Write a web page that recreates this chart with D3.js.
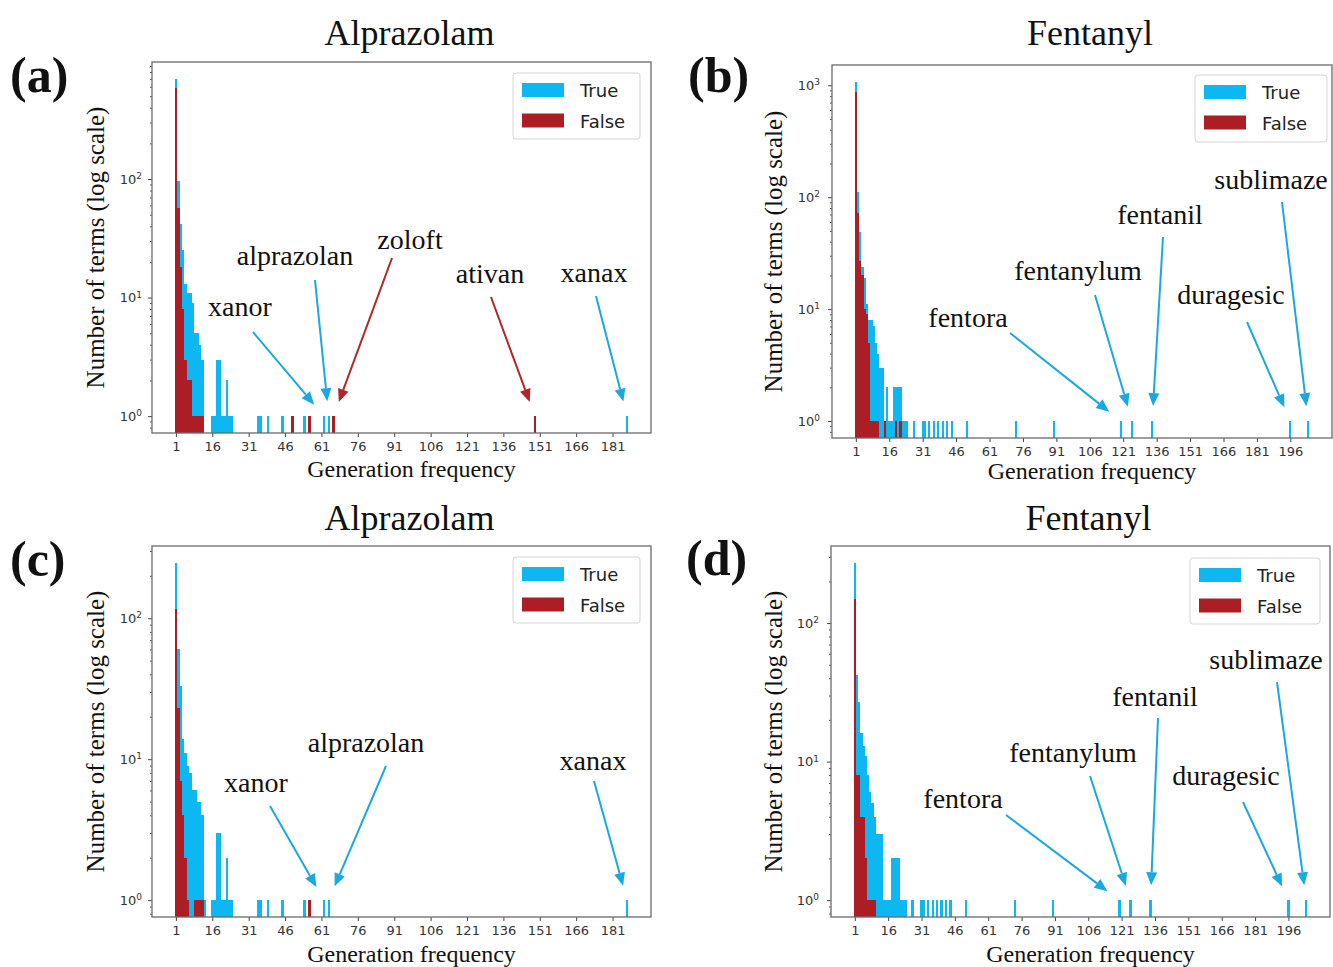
<!DOCTYPE html>
<html>
<head>
<meta charset="utf-8">
<script src="https://cdn.jsdelivr.net/npm/d3@7"></script>
<style>
  body { margin: 0; background: #fff; }
  svg { display: block; }
</style>
</head>
<body>
<svg id="fig" width="1333" height="967"></svg>
<script>
// ---- Data: generation frequency -> number of generated terms ----
// (a) Alprazolam
const aTrueFreq  = [1, 2, 3, 4, 5, 6, 7, 8, 9, 10, 11, 12, 16, 17, 18, 19, 20, 21, 22, 23, 24, 35, 36, 39, 45, 54, 56, 62, 64, 187];
const aTrueCount = [700, 97, 42, 25, 13, 11, 11, 9, 5, 5, 4, 3, 1, 1, 3, 3, 1, 1, 2, 1, 1, 1, 1, 1, 1, 1, 1, 1, 1, 1];
const aFalseFreq  = [1, 2, 3, 4, 5, 6, 7, 8, 9, 10, 11, 12, 49, 56, 66, 149];
const aFalseCount = [590, 57, 18, 8, 3, 2, 2, 1, 1, 1, 1, 1, 1, 1, 1, 1];

// (b) Fentanyl
const bTrueFreq  = [1, 2, 3, 4, 5, 6, 7, 8, 9, 10, 11, 12, 13, 14, 15, 16, 17, 18, 19, 20, 21, 22, 23, 24, 27, 31, 32, 34, 36, 38, 40, 42, 44, 51, 73, 90, 120, 125, 134, 196, 204];
const bTrueCount = [1070, 111, 49, 24, 19, 11, 8, 8, 7, 5, 4, 3, 3, 1, 2, 1, 1, 2, 2, 2, 2, 1, 1, 1, 1, 1, 1, 1, 1, 1, 1, 1, 1, 1, 1, 1, 1, 1, 1, 1, 1];
const bFalseFreq  = [1, 2, 3, 4, 5, 6, 7, 8, 9, 10, 11, 14, 19, 21];
const bFalseCount = [870, 72, 27, 20, 10, 9, 5, 1, 1, 1, 1, 1, 1, 1];

// (c) Alprazolam
const cTrueFreq  = [1, 2, 3, 4, 5, 6, 7, 8, 9, 10, 11, 12, 13, 16, 17, 18, 19, 20, 21, 22, 23, 24, 35, 36, 39, 45, 54, 56, 62, 64, 187];
const cTrueCount = [247, 60, 33, 14, 11, 9, 8, 6, 6, 5, 5, 4, 1, 1, 1, 3, 3, 1, 1, 2, 1, 1, 1, 1, 1, 1, 1, 1, 1, 1, 1];
const cFalseFreq  = [1, 2, 3, 4, 5, 6, 9, 10, 11, 12, 56];
const cFalseCount = [116, 23, 7, 4, 2, 1, 1, 1, 1, 1, 1];

// (d) Fentanyl
const dTrueFreq  = [1, 2, 3, 4, 5, 6, 7, 8, 9, 10, 11, 12, 13, 14, 15, 16, 17, 18, 19, 20, 21, 22, 23, 24, 27, 31, 32, 34, 36, 38, 40, 42, 44, 51, 73, 90, 120, 125, 134, 196, 204];
const dTrueCount = [272, 42, 27, 16, 13, 11, 8, 6, 5, 4, 3, 3, 3, 1, 1, 1, 1, 2, 2, 2, 2, 1, 1, 1, 1, 1, 1, 1, 1, 1, 1, 1, 1, 1, 1, 1, 1, 1, 1, 1, 1];
const dFalseFreq  = [1, 2, 3, 4, 5, 6, 7, 8, 9, 10];
const dFalseCount = [149, 8, 8, 4, 4, 2, 1, 1, 1, 1];

// x tick labels
const alpTicks = d3.range(1, 182, 15);   // 1, 16, ..., 181
const fenTicks = d3.range(1, 197, 15);   // 1, 16, ..., 196

// Annotated terms: name, generation frequency, whether it is a True term
const aTerms = ["xanor", "alprazolan", "zoloft", "ativan", "xanax"];
const aTermFreq = [62, 64, 66, 149, 187];
const aTermTrue = [true, true, false, false, true];
const fenTerms = ["fentora", "fentanylum", "fentanil", "duragesic", "sublimaze"];
const fenTermFreq = [120, 125, 134, 196, 204];
const fenTermTrue = [true, true, true, true, true];
const cTerms = ["xanor", "alprazolan", "xanax"];
const cTermFreq = [62, 64, 187];
const cTermTrue = [true, true, true];

// ---- Styles ----
const SERIF = "'Liberation Serif','Times New Roman',serif";
const SANS = "'DejaVu Sans',Verdana,sans-serif";
const BLUE = "#0db7f1";
const RED = "#ad1e24";
const ARROW_BLUE = "#1aa8e0";
const ARROW_RED = "#b0262a";

// ---- Layout: [label x, label baseline, arrow start x, arrow start y] ----
const aLabelPos = [[240, 316, 253, 332], [295, 265, 315, 280], [410, 249, 392, 258], [490, 283, 491, 297], [594, 282, 596, 296]];
const bLabelPos = [[968, 327, 1010, 333], [1078, 280, 1095, 295], [1160, 224, 1163, 237], [1231, 304, 1247, 322], [1271, 189, 1282, 202]];
const cLabelPos = [[256, 792, 270, 806], [366, 752, 386, 766], [593, 770, 594, 781]];
const dLabelPos = [[963, 808, 1006, 815], [1073, 762, 1090, 776], [1155, 706, 1158, 718], [1226, 785, 1243, 802], [1266, 669, 1277, 682]];

const panels = [
  { id: "a", title: "Alprazolam", letter: "(a)", frame: { x: 152, y: 62, w: 499, h: 371 },
    titleY: 45, letterPos: [10, 92], yLabelX: 95, xLabelY: 477, legend: { x: 513, y: 73, w: 127, h: 66 },
    trueFreq: aTrueFreq, trueCount: aTrueCount, falseFreq: aFalseFreq, falseCount: aFalseCount,
    ticks: alpTicks, terms: aTerms, termFreq: aTermFreq, termTrue: aTermTrue, labelPos: aLabelPos, ytickGap: 6 },
  { id: "b", title: "Fentanyl", letter: "(b)", frame: { x: 832, y: 65, w: 500, h: 373 },
    titleY: 45, letterPos: [688, 92], yLabelX: 773, xLabelY: 479, legend: { x: 1195, y: 75, w: 132, h: 67 },
    trueFreq: bTrueFreq, trueCount: bTrueCount, falseFreq: bFalseFreq, falseCount: bFalseCount,
    ticks: fenTicks, terms: fenTerms, termFreq: fenTermFreq, termTrue: fenTermTrue, labelPos: bLabelPos, ytickGap: 8 },
  { id: "c", title: "Alprazolam", letter: "(c)", frame: { x: 152, y: 546, w: 499, h: 371 },
    titleY: 530, letterPos: [10, 576], yLabelX: 95, xLabelY: 962, legend: { x: 513, y: 557, w: 127, h: 66 },
    trueFreq: cTrueFreq, trueCount: cTrueCount, falseFreq: cFalseFreq, falseCount: cFalseCount,
    ticks: alpTicks, terms: cTerms, termFreq: cTermFreq, termTrue: cTermTrue, labelPos: cLabelPos, ytickGap: 6 },
  { id: "d", title: "Fentanyl", letter: "(d)", frame: { x: 831, y: 546, w: 499, h: 371 },
    titleY: 530, letterPos: [686, 575], yLabelX: 773, xLabelY: 962, legend: { x: 1190, y: 558, w: 130, h: 66 },
    trueFreq: dTrueFreq, trueCount: dTrueCount, falseFreq: dFalseFreq, falseCount: dFalseCount,
    ticks: fenTicks, terms: fenTerms, termFreq: fenTermFreq, termTrue: fenTermTrue, labelPos: dLabelPos, ytickGap: 8 }
];

const svg = d3.select("#fig");
const defs = svg.append("defs");

function drawPanel(p) {
  const { x: fx, y: fy, w: fw, h: fh } = p.frame;
  const g = svg.append("g").attr("class", "panel-" + p.id);

  // x: one bar per integer frequency, 5% margin around the bar edges
  const freqs = p.trueFreq.concat(p.falseFreq);
  const lo = d3.min(freqs) - 0.5, hi = d3.max(freqs) + 0.5, pad = (hi - lo) * 0.05;
  const x = d3.scaleLinear().domain([lo - pad, hi + pad]).range([fx, fx + fw]);

  // y: log scale with 5% (in log space) margins
  const L = Math.log10(d3.max(p.trueCount.concat(p.falseCount)));
  const y = d3.scaleLog().domain([Math.pow(10, -0.05 * L), Math.pow(10, 1.05 * L)]).range([fy + fh, fy]);

  defs.append("clipPath").attr("id", "clip-" + p.id)
    .append("rect").attr("x", fx).attr("y", fy).attr("width", fw).attr("height", fh);

  const bars = g.append("g").attr("clip-path", `url(#clip-${p.id})`).attr("shape-rendering", "crispEdges");
  const series = [
    { freq: p.trueFreq, count: p.trueCount, color: BLUE },
    { freq: p.falseFreq, count: p.falseCount, color: RED }
  ];
  series.forEach(s => {
    bars.append("g").selectAll("rect")
      .data(d3.zip(s.freq, s.count))
      .join("rect")
      .attr("x", d => x(d[0] - 0.5))
      .attr("width", d => x(d[0] + 0.5) - x(d[0] - 0.5))
      .attr("y", d => y(d[1]))
      .attr("height", d => fy + fh - y(d[1]))
      .attr("fill", s.color);
  });

  // x axis
  const xa = g.append("g").attr("transform", `translate(0,${fy + fh})`)
    .call(d3.axisBottom(x).tickValues(p.ticks).tickSize(4).tickPadding(5));
  xa.select(".domain").remove();
  xa.selectAll("line").attr("stroke", "#444");
  xa.selectAll("text").attr("font-family", SANS).attr("font-size", 13).attr("fill", "#333");

  // y axis: decades labelled as powers of ten, minor ticks in between
  const [d0, d1] = y.domain();
  const e0 = Math.floor(Math.log10(d0)), e1 = Math.ceil(Math.log10(d1));
  const majors = d3.range(e0, e1 + 1).map(e => Math.pow(10, e)).filter(v => v >= d0 && v <= d1);
  const minors = [];
  d3.range(e0, e1 + 1).forEach(e => {
    for (let k = 2; k <= 9; k++) {
      const v = k * Math.pow(10, e);
      if (v >= d0 && v <= d1) minors.push(v);
    }
  });
  const ya = g.append("g").attr("transform", `translate(${fx},0)`)
    .call(d3.axisLeft(y).tickValues(majors).tickSize(4).tickPadding(p.ytickGap).tickFormat(() => ""));
  ya.select(".domain").remove();
  ya.selectAll("line").attr("stroke", "#444");
  ya.selectAll(".tick text")
    .attr("font-family", SANS).attr("font-size", 13).attr("fill", "#333")
    .each(function (d) {
      const t = d3.select(this);
      t.append("tspan").text("10");
      t.append("tspan").attr("dy", "-0.5em").attr("font-size", 9).text(Math.round(Math.log10(d)));
    });
  const ym = g.append("g").attr("transform", `translate(${fx},0)`)
    .call(d3.axisLeft(y).tickValues(minors).tickSize(2).tickFormat(""));
  ym.select(".domain").remove();
  ym.selectAll("line").attr("stroke", "#555");

  // frame
  g.append("rect").attr("x", fx).attr("y", fy).attr("width", fw).attr("height", fh)
    .attr("fill", "none").attr("stroke", "#6a6a6a").attr("stroke-width", 1.3);

  // titles and labels
  g.append("text").attr("x", fx + fw / 2 + 8).attr("y", p.titleY)
    .attr("text-anchor", "middle").attr("font-family", SERIF).attr("font-size", 36).attr("fill", "#111")
    .text(p.title);
  g.append("text").attr("x", p.letterPos[0]).attr("y", p.letterPos[1])
    .attr("font-family", SERIF).attr("font-weight", "bold").attr("font-size", 50).attr("fill", "#111")
    .text(p.letter);
  g.append("text")
    .attr("transform", `translate(${p.yLabelX},${fy + fh / 2}) rotate(-90)`)
    .attr("text-anchor", "middle").attr("dominant-baseline", "central")
    .attr("font-family", SERIF).attr("font-size", 25).attr("fill", "#111")
    .text("Number of terms (log scale)");
  g.append("text").attr("x", fx + fw / 2 + 10).attr("y", p.xLabelY)
    .attr("text-anchor", "middle").attr("font-family", SERIF).attr("font-size", 24).attr("fill", "#111")
    .text("Generation frequency");

  // legend
  const lg = g.append("g").attr("transform", `translate(${p.legend.x},${p.legend.y})`);
  lg.append("rect").attr("width", p.legend.w).attr("height", p.legend.h).attr("rx", 3)
    .attr("fill", "#fff").attr("stroke", "#d4d4d4").attr("stroke-width", 1);
  [["True", BLUE], ["False", RED]].forEach((row, i) => {
    lg.append("rect").attr("x", 9).attr("y", 10 + i * 30.5).attr("width", 42).attr("height", 14).attr("fill", row[1]);
    lg.append("text").attr("x", 67).attr("y", 24 + i * 30.5)
      .attr("font-family", SANS).attr("font-size", 18).attr("fill", "#222").text(row[0]);
  });

  // annotations: arrows point at the bar of each term, stopping short of it
  p.terms.forEach((term, i) => {
    const [tx, ty, sx, sy] = p.labelPos[i];
    const color = p.termTrue[i] ? ARROW_BLUE : ARROW_RED;
    g.append("text").attr("x", tx).attr("y", ty).attr("text-anchor", "middle")
      .attr("font-family", SERIF).attr("font-size", 28).attr("fill", "#111").text(term);
    const px = x(p.termFreq[i]), py = y(1);
    const dx = px - sx, dy = py - sy, len = Math.hypot(dx, dy);
    const ux = dx / len, uy = dy / len;
    const tipX = px - ux * 15, tipY = py - uy * 15;
    const headLen = 13, headW = 5.5;
    const bx = tipX - ux * headLen, by = tipY - uy * headLen;
    g.append("line").attr("x1", sx).attr("y1", sy).attr("x2", bx).attr("y2", by)
      .attr("stroke", color).attr("stroke-width", 2);
    g.append("path")
      .attr("d", `M${tipX},${tipY}L${bx - uy * headW},${by + ux * headW}L${bx + uy * headW},${by - ux * headW}Z`)
      .attr("fill", color);
  });
}

panels.forEach(drawPanel);
</script>
</body>
</html>
